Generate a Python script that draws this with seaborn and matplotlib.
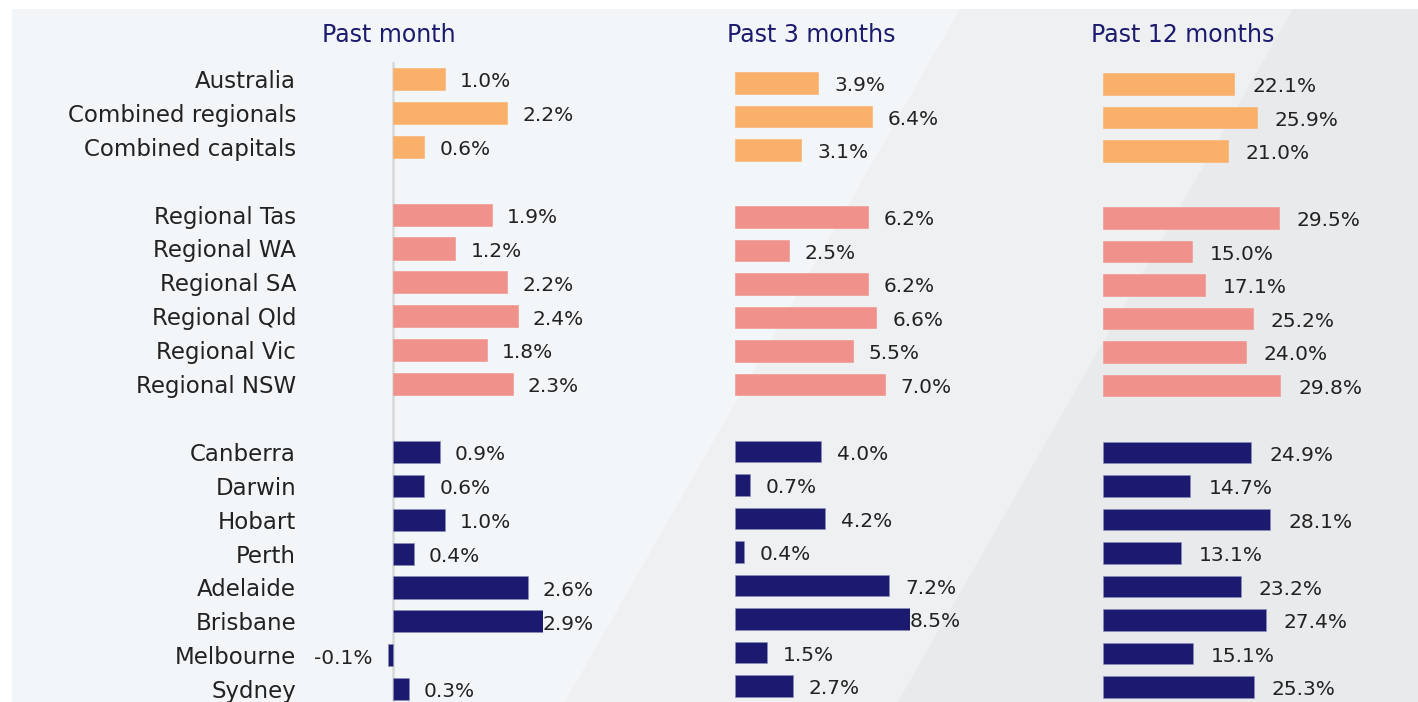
import matplotlib.pyplot as plt
from matplotlib.patches import Rectangle, Polygon
import seaborn as sns
import pandas as pd

regions = ["Australia", "Combined regionals", "Combined capitals",
           "Regional Tas", "Regional WA", "Regional SA", "Regional Qld", "Regional Vic", "Regional NSW",
           "Canberra", "Darwin", "Hobart", "Perth", "Adelaide", "Brisbane", "Melbourne", "Sydney"]
groups = ["national"] * 3 + ["regional"] * 6 + ["capital"] * 8
past_month = [1.0, 2.2, 0.6, 1.9, 1.2, 2.2, 2.4, 1.8, 2.3, 0.9, 0.6, 1.0, 0.4, 2.6, 2.9, -0.1, 0.3]
past_3_months = [3.9, 6.4, 3.1, 6.2, 2.5, 6.2, 6.6, 5.5, 7.0, 4.0, 0.7, 4.2, 0.4, 7.2, 8.5, 1.5, 2.7]
past_12_months = [22.1, 25.9, 21.0, 29.5, 15.0, 17.1, 25.2, 24.0, 29.8, 24.9, 14.7, 28.1, 13.1, 23.2, 27.4, 15.1, 25.3]
titles = ["Past month", "Past 3 months", "Past 12 months"]

# row order with two empty spacer rows between the groups
order = regions[:3] + [" "] + regions[3:9] + ["  "] + regions[9:]
palette = {"national": "#FBB06A", "regional": "#F0928B", "capital": "#1B1A6E"}

df = pd.DataFrame({"region": regions, "group": groups,
                   "Past month": past_month, "Past 3 months": past_3_months,
                   "Past 12 months": past_12_months})

W, H = 1418, 702
fig = plt.figure(figsize=(W / 100, H / 100), dpi=100)
fig.patch.set_facecolor("white")
plt.rcParams["font.family"] = ["DejaVu Sans"]

# background panel with soft diagonal shading
fig.patches.append(Rectangle((12 / W, 0), 1, (H - 9) / H, transform=fig.transFigure,
                             facecolor="#F3F6F8", edgecolor="none", zorder=-10))
fig.patches.append(Polygon([(960 / W, (H - 9) / H), (1, (H - 9) / H), (1, 0), (565 / W, 0)],
                           transform=fig.transFigure, facecolor="#EEF0F2", edgecolor="none", zorder=-9))
fig.patches.append(Polygon([(1293 / W, (H - 9) / H), (1, (H - 9) / H), (1, 0), (898 / W, 0)],
                           transform=fig.transFigure, facecolor="#E9EAEC", edgecolor="none", zorder=-8))

# panel layout in pixels: zero x, px per %, xlim, first row y, row step, label pad (%)
panels = [
    dict(x0=393, scale=52.0, xlim=(-0.4, 2.88), y0=79, step=33.9, pad=0.29),
    dict(x0=735, scale=21.4, xlim=(0, 8.18), y0=83, step=33.5, pad=0.75),
    dict(x0=1103, scale=5.95, xlim=(0, 40), y0=84, step=33.5, pad=3.0),
]
title_x = [389, 811, 1183]

n = len(order)
for i, (col, p) in enumerate(zip(titles, panels)):
    left = p["x0"] + p["xlim"][0] * p["scale"]
    width = (p["xlim"][1] - p["xlim"][0]) * p["scale"]
    top = p["y0"] - p["step"] / 2
    height = p["step"] * n
    ax = fig.add_axes([left / W, 1 - (top + height) / H, width / W, height / H])
    ax.set_facecolor("none")
    sns.barplot(data=df, y="region", x=col, hue="group", order=order, palette=palette,
                dodge=False, legend=False, width=0.65, saturation=1,
                edgecolor="#8A8FC0", linewidth=0.4, ax=ax)
    for bar in ax.patches:
        if bar.get_facecolor()[:3] != (27 / 255, 26 / 255, 110 / 255):
            bar.set_edgecolor(bar.get_facecolor())
    ax.set_xlim(*p["xlim"])
    ax.set_ylim(n - 0.5, -0.5)
    for s in ax.spines.values():
        s.set_visible(False)
    ax.set_xticks([])
    ax.set_xlabel("")
    ax.set_ylabel("")
    if i == 0:
        ax.axvline(0, color="#D6D8DA", lw=1.8, zorder=0)
        ax.set_yticks(range(n))
        ax.set_yticklabels(order, fontsize=16.5, color="#222222")
        ax.tick_params(axis="y", length=0, pad=(left - 296) * 0.72)
    else:
        ax.set_yticks([])
    for name, v in zip(df["region"], df[col]):
        y = order.index(name) + 0.08
        if v >= 0:
            ax.text(min(v + p["pad"], p["xlim"][1]), y, f"{v:.1f}%", ha="left", va="center",
                    fontsize=14.5, color="#222222", clip_on=False)
        else:
            ax.text(v - p["pad"], y, f"{v:.1f}%", ha="right", va="center",
                    fontsize=14.5, color="#222222", clip_on=False)
    fig.text(title_x[i] / W, 1 - 35 / H, col, ha="center", va="center",
             fontsize=17, color="#1B1A6E")

fig.savefig("out.png", dpi=100, facecolor=fig.get_facecolor())
